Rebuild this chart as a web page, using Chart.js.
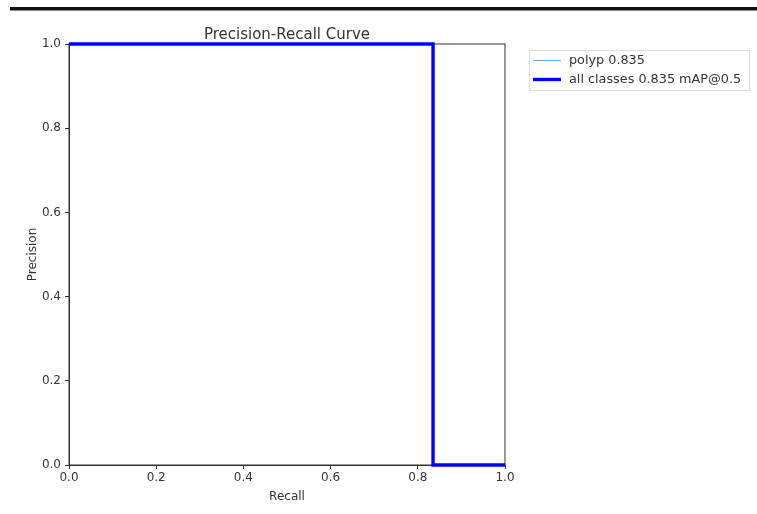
<!DOCTYPE html>
<html>
<head>
<meta charset="utf-8">
<script src="https://cdn.jsdelivr.net/npm/chart.js@4.4.1/dist/chart.umd.min.js"></script>
<style>
  html, body { margin: 0; padding: 0; background: #fff; }
  #wrap { width: 757px; height: 514px; }
</style>
</head>
<body>
<div id="wrap"><canvas id="prChart" width="757" height="514"></canvas></div>
<script>
// data
const recall = [0, 0.835, 0.835, 1.0];
const polypPrecision = [1.0, 1.0, 0.0, 0.0];
const allPrecision = [1.0, 1.0, 0.0, 0.0];
const seriesLabels = ["polyp 0.835", "all classes 0.835 mAP@0.5"];
const tickValues = [0, 0.2, 0.4, 0.6, 0.8, 1.0];

const textColor = "#333";
const fontFamily = "'DejaVu Sans', sans-serif";

const toPoints = ys => recall.map((x, i) => ({ x, y: ys[i] }));

// plot frame + top bar + legend box
const extras = {
  id: "extras",
  beforeDraw(chart) {
    const ctx = chart.ctx;
    ctx.save();
    ctx.fillStyle = "#fff";
    ctx.fillRect(0, 0, chart.width, chart.height);
    ctx.fillStyle = "#111";
    ctx.fillRect(10, 7, 747, 3.5);
    ctx.restore();
  },
  beforeDatasetsDraw(chart) {
    const { ctx, chartArea: a } = chart;
    ctx.save();
    ctx.strokeStyle = textColor;
    ctx.lineWidth = 1;
    ctx.strokeRect(a.left, a.top, a.right - a.left, a.bottom - a.top);
    ctx.restore();
  },
  afterDraw(chart) {
    const ctx = chart.ctx;
    ctx.save();
    ctx.fillStyle = "#fff";
    ctx.strokeStyle = "#ddd";
    ctx.lineWidth = 1;
    ctx.fillRect(529.5, 50.5, 220, 40);
    ctx.strokeRect(529.5, 50.5, 220, 40);
    chart.data.datasets.forEach((ds, i) => {
      const y = 60.5 + i * 19;
      ctx.strokeStyle = ds.borderColor;
      ctx.lineWidth = ds.borderWidth;
      ctx.beginPath();
      ctx.moveTo(533, y);
      ctx.lineTo(561, y);
      ctx.stroke();
      ctx.fillStyle = textColor;
      ctx.font = "12.8px " + fontFamily;
      ctx.textBaseline = "middle";
      ctx.fillText(ds.label, 569, y);
    });
    ctx.restore();
  }
};

const axisCommon = {
  type: "linear",
  min: 0,
  max: 1,
  border: { display: true, color: textColor, width: 1 },
  grid: { drawOnChartArea: false, drawTicks: true, tickLength: 4, tickColor: textColor },
  ticks: {
    stepSize: 0.2,
    padding: 3,
    color: textColor,
    font: { family: fontFamily, size: 12 },
    callback: v => tickValues.includes(Math.round(v * 10) / 10) ? v.toFixed(1) : ""
  }
};

new Chart(document.getElementById("prChart"), {
  type: "scatter",
  data: {
    datasets: [
      {
        label: seriesLabels[0],
        data: toPoints(polypPrecision),
        showLine: true,
        borderColor: "#6fa6d6",
        borderWidth: 1,
        pointRadius: 0,
        clip: 4,
        order: 1
      },
      {
        label: seriesLabels[1],
        data: toPoints(allPrecision),
        showLine: true,
        borderColor: "#0000ff",
        borderWidth: 3.4,
        pointRadius: 0,
        clip: 4,
        order: 0
      }
    ]
  },
  options: {
    responsive: false,
    animation: false,
    layout: { padding: { left: 0, right: 252, top: 0, bottom: 0 } },
    plugins: {
      legend: { display: false },
      tooltip: { enabled: false },
      title: {
        display: true,
        text: "Precision-Recall Curve",
        fullSize: false,
        color: textColor,
        font: { family: fontFamily, size: 15, weight: "normal" },
        padding: { top: 26, bottom: 0 }
      }
    },
    scales: {
      x: {
        ...axisCommon,
        position: "bottom",
        ticks: { ...axisCommon.ticks, padding: 2 },
        title: { display: true, text: "Recall", color: textColor, font: { family: fontFamily, size: 12 }, padding: { top: 0, bottom: 10 } },
        afterFit(s) { s.height = 49; }
      },
      y: {
        ...axisCommon,
        position: "left",
        ticks: { ...axisCommon.ticks, padding: 4 },
        title: { display: true, text: "Precision", color: textColor, font: { family: fontFamily, size: 12 }, padding: { top: 26, bottom: 0 } },
        afterFit(s) { s.width = 69; }
      }
    }
  },
  plugins: [extras]
});
</script>
</body>
</html>
